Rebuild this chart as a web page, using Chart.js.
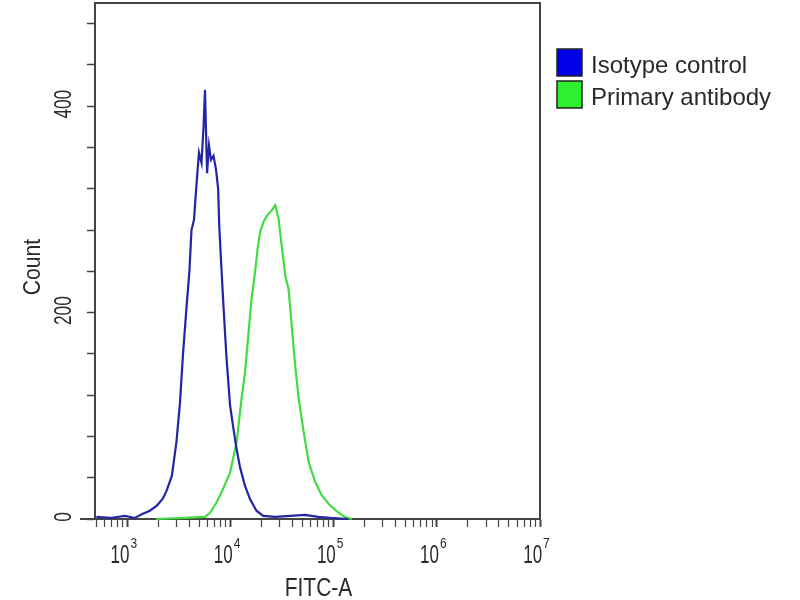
<!DOCTYPE html>
<html>
<head>
<meta charset="utf-8">
<script src="https://cdn.jsdelivr.net/npm/chart.js@4"></script>
<style>
  html, body { margin: 0; padding: 0; background: #fff; }
  canvas { display: block; }
</style>
</head>
<body>
<canvas id="histo" width="800" height="600"></canvas>
<script>
// FITC-A channel values and counts
const isoX = [500, 680, 946, 1180, 1410, 1650, 1930, 2210, 2410, 2700, 2990, 3230, 3460, 3740, 3990, 4180, 4420, 4680, 4940, 5230, 5470, 5650, 5920, 6180, 6470, 6840, 7240, 7580, 7760, 8090, 8550, 9150, 9890, 10570, 11430, 12360, 13810, 15470, 17820, 20700, 27000, 38000, 52700, 70900, 92600, 138000];
const isoCount = [2, 1, 3, 1, 5, 8, 13, 20, 28, 42, 75, 112, 160, 205, 240, 280, 290, 325, 355, 345, 380, 416, 335, 362, 348, 352, 338, 320, 285, 250, 205, 155, 110, 90, 68, 50, 32, 19, 8, 3, 2, 3, 4, 2, 1, 0];

const priX = [1900, 3620, 5650, 6320, 7310, 8450, 9890, 11430, 12790, 13810, 14960, 16000, 17300, 18300, 19330, 20900, 22600, 25100, 27100, 29200, 31300, 33900, 36600, 39100, 42300, 45700, 51200, 57200, 66100, 76400, 92500, 112000, 129000, 151000];
const priCount = [0, 1, 2, 6, 16, 29, 45, 74, 117, 142, 181, 214, 240, 262, 278, 288, 294, 299, 304, 291, 265, 236, 222, 188, 149, 117, 84, 55, 36, 23, 13, 6, 2, 0];

const seriesNames = ['Isotype control', 'Primary antibody'];
const xDecades = [1e3, 1e4, 1e5, 1e6, 1e7];
const xDecadeExp = ['3', '4', '5', '6', '7'];
const yTickValues = [0, 40, 80, 120, 160, 200, 240, 280, 320, 360, 400, 440, 480];
const yLabelValues = [0, 200, 400];

const AXIS = '#444';
const FONT = '"Liberation Sans", Arial, sans-serif';

// decade marks plus the 2..9 steps in between (and 500..900 below 10^3)
const xTickValues = [];
[100].concat(xDecades.slice(0, -1)).forEach(d => {
    for (let k = 1; k <= 9; k++) {
        const v = d * k;
        if (v >= 485) xTickValues.push(v);
    }
});
xTickValues.push(1e7);

const pairs = (xs, ys) => xs.map((x, i) => ({ x: x, y: ys[i] }));

// squeezed text, the source picture has tall narrow glyphs
function squeezed(c, txt, x, y, size, sx, rot, align, base) {
    c.save();
    c.translate(x, y);
    if (rot) c.rotate(rot);
    c.scale(sx, 1);
    c.font = size + 'px ' + FONT;
    c.textAlign = align || 'center';
    c.textBaseline = base || 'middle';
    c.fillText(txt, 0, 0);
    c.restore();
}

const textPlugin = {
    id: 'fcsText',
    afterDraw(chart) {
        const c = chart.ctx;
        const a = chart.chartArea;
        const xs = chart.scales.x, ys = chart.scales.y;
        c.save();

        // frame top and right
        c.strokeStyle = AXIS;
        c.lineWidth = 2;
        c.beginPath();
        c.moveTo(a.left, a.top);
        c.lineTo(a.right, a.top);
        c.lineTo(a.right, a.bottom);
        c.stroke();
        // x axis line running past the y axis
        c.beginPath();
        c.moveTo(80, a.bottom);
        c.lineTo(a.left, a.bottom);
        c.stroke();

        c.fillStyle = '#2a2a2a';
        // x decade labels 10^n
        xDecades.forEach((v, i) => {
            const px = xs.getPixelForValue(v);
            c.font = '25px ' + FONT;
            const wBase = c.measureText('10').width * 0.68;
            c.font = '15px ' + FONT;
            const wExp = c.measureText(xDecadeExp[i]).width * 0.8;
            const left = px - (wBase + wExp) / 2 - 4;
            squeezed(c, '10', left, 563, 25, 0.68, 0, 'left', 'alphabetic');
            squeezed(c, xDecadeExp[i], left + wBase + 1, 548, 15, 0.8, 0, 'left', 'alphabetic');
        });

        // y labels, turned on their side
        yLabelValues.forEach(v => {
            squeezed(c, String(v), 64, ys.getPixelForValue(v) - 2, 24, 0.72, -Math.PI / 2);
        });

        // axis titles
        squeezed(c, 'Count', 33, (a.top + a.bottom) / 2 + 6, 24, 0.88, -Math.PI / 2);
        squeezed(c, 'FITC-A', (a.left + a.right) / 2 + 1, 596, 25, 0.84, 0, 'center', 'alphabetic');

        // legend
        c.font = '24px ' + FONT;
        c.textAlign = 'left';
        c.textBaseline = 'alphabetic';
        chart.data.datasets.forEach((ds, i) => {
            const top = 49 + i * 32;
            c.fillStyle = ds.legendFill;
            c.fillRect(557, top, 25, 27);
            c.strokeStyle = '#222';
            c.lineWidth = 1.5;
            c.strokeRect(557, top, 25, 27);
            c.fillStyle = '#2a2a2a';
            c.fillText(ds.label, 591, top + 24);
        });
        c.restore();
    }
};

new Chart(document.getElementById('histo').getContext('2d'), {
    type: 'line',
    data: {
        datasets: [{
            label: seriesNames[0],
            data: pairs(isoX, isoCount),
            borderColor: '#2424a6',
            legendFill: '#0000e6',
            borderWidth: 2.2,
            pointRadius: 0,
            clip: false
        }, {
            label: seriesNames[1],
            data: pairs(priX, priCount),
            borderColor: '#40dc40',
            legendFill: '#2ef02e',
            borderWidth: 2.2,
            pointRadius: 0,
            clip: false
        }]
    },
    options: {
        responsive: false,
        animation: false,
        devicePixelRatio: 1,
        layout: { padding: { left: 87, top: 3, right: 260, bottom: 73 } },
        plugins: { legend: { display: false }, tooltip: { enabled: false } },
        scales: {
            x: {
                type: 'logarithmic',
                min: 485,
                max: 1e7,
                afterBuildTicks: s => { s.ticks = xTickValues.map(v => ({ value: v })); },
                ticks: { display: false },
                border: { color: AXIS, width: 2 },
                grid: {
                    drawOnChartArea: false,
                    tickLength: 8,
                    tickColor: AXIS,
                    tickWidth: ctx => (ctx.tick && xDecades.includes(ctx.tick.value)) ? 2 : 1.2
                }
            },
            y: {
                type: 'linear',
                min: 0,
                max: 500,
                afterBuildTicks: s => { s.ticks = yTickValues.map(v => ({ value: v })); },
                ticks: { display: false },
                border: { color: AXIS, width: 2 },
                grid: { drawOnChartArea: false, tickLength: 8, tickColor: AXIS, tickWidth: 1.5 }
            }
        }
    },
    plugins: [textPlugin]
});
</script>
</body>
</html>
